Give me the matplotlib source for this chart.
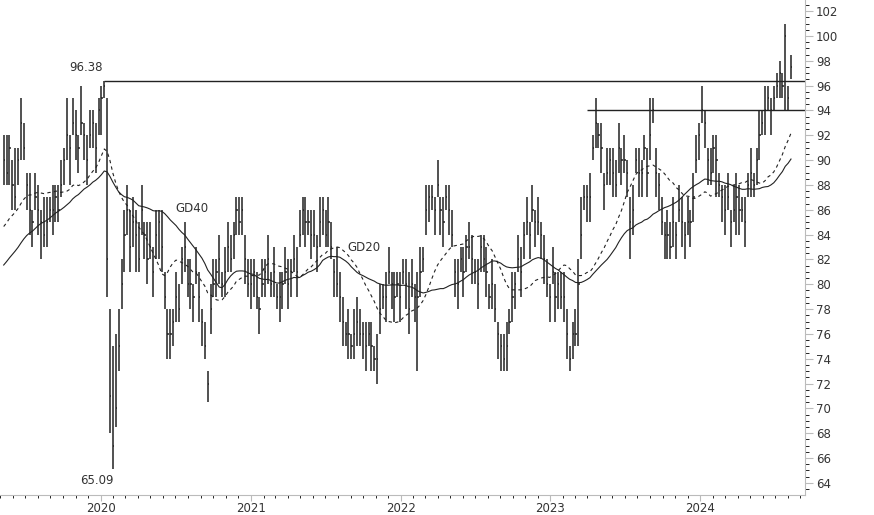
import numpy as np
import pandas as pd
import matplotlib
matplotlib.use("Agg")
import matplotlib.pyplot as plt
import matplotlib.dates as mdates
from matplotlib.ticker import MultipleLocator

# weekly closes
closes = [90,89,91,88,87,90,93,91,88,86,
          85,87,86,85,84,85,86,86,87,86,
          88,90,92,91,93,92,91,93,92,90,
          92,93,91,94,95,96,82,71,67,70,
          75,80,84,86,83,85,84,82,86,84,
          82,83,81,84,85,83,79,76,76,77,
          79,78,82,83,80,80,79,81,79,77,
          75,72,78,80,81,82,80,81,83,82,
          84,86,85,86,82,80,80,81,79,78,
          80,81,82,80,81,79,79,80,81,80,
          81,82,81,84,86,85,85,84,84,83,
          85,86,84,85,83,81,80,79,77,76,
          76,75,76,77,76,76,75,76,75,74,
          74,78,79,79,81,80,79,80,79,81,
          80,78,80,79,79,81,82,86,87,87,
          86,88,86,85,87,86,84,81,80,82,
          81,83,83,82,81,80,83,82,81,79,
          80,78,76,75,74,75,77,79,80,82,
          81,84,85,84,86,85,85,84,82,80,
          79,81,79,80,79,79,76,74,76,76,
          80,84,87,87,87,91,93,92,91,88,
          89,90,89,88,91,90,90,89,85,86,
          90,89,89,91,89,92,94,89,88,85,
          84,84,83,85,84,86,85,84,85,85,
          87,90,92,94,93,90,89,91,90,88,
          87,86,87,85,86,87,86,86,85,88,
          89,88,90,92,93,94,95,94,95,96,
          97,96,100,95,97.5]
# distance from close up to the weekly high
up = [2,3,1,2,4,1,2,2,1,3,
      1,2,2,1,3,2,1,2,1,2,
      2,1,3,1,2,2,1,3,1,2,
      2,1,2,1,1,0.38,13,7,8,6,
      3,2,2,2,3,2,2,3,2,1,
      3,2,2,2,1,3,2,2,2,1,
      2,2,1,2,2,2,1,2,2,1,
      2,1,2,2,1,2,1,2,2,2,
      1,1,2,1,2,2,2,1,2,1,
      2,1,2,1,2,1,2,1,2,2,
      1,2,2,2,1,2,1,2,2,1,
      2,1,2,2,2,1,3,2,2,1,
      2,1,2,2,2,1,2,1,2,1,
      2,2,1,2,2,1,2,1,2,1,
      2,3,2,1,2,2,1,2,1,1,
      1,2,1,2,1,2,2,1,2,1,
      2,1,2,2,1,2,1,2,2,1,
      2,2,1,1,2,2,1,2,1,2,
      2,1,2,1,2,1,2,1,2,2,
      1,2,2,1,2,2,2,1,1,2,
      2,3,1,1,2,1,2,1,2,1,
      2,1,2,2,2,1,2,1,2,2,
      1,2,1,1,2,3,1,2,1,2,
      1,2,2,2,1,2,2,1,2,1,
      2,2,1,2,1,1,2,1,2,1,
      1,2,2,1,2,2,2,1,2,1,
      2,1,1,2,1,2,1,1,1,1,
      1,1,1,1,1]
# distance from close down to the weekly low
dn = [2,1,3,2,1,2,3,1,2,2,
      2,1,2,3,1,2,1,2,2,1,
      1,2,2,3,1,2,2,1,2,2,
      1,2,2,2,3,1,3,3,1.91,1.5,
      2,2,3,2,2,2,3,1,2,2,
      2,1,2,2,3,2,1,2,2,2,
      2,1,2,2,1,2,2,1,2,2,
      1,1.5,2,1,2,2,1,2,2,1,
      2,2,1,2,2,1,2,2,1,2,
      1,2,2,1,2,1,2,2,1,2,
      2,1,2,1,2,2,1,2,1,2,
      2,2,1,2,1,2,1,2,2,1,
      2,1,2,2,1,2,2,1,2,1,
      2,2,1,2,1,2,2,1,2,1,
      2,2,1,2,6,2,1,2,2,1,
      2,1,2,2,1,2,1,2,2,1,
      2,2,1,2,1,2,2,1,2,1,
      2,1,2,2,1,2,1,2,2,1,
      2,2,1,2,1,2,1,2,2,1,
      2,1,2,2,1,2,2,1,2,1,
      5,2,1,2,2,1,2,1,2,2,
      1,2,2,1,2,2,1,2,3,2,
      1,2,2,1,2,2,1,2,2,1,
      2,2,1,2,2,1,2,2,1,2,
      2,1,2,1,2,2,1,2,3,1,
      2,2,1,2,1,3,2,1,2,1,
      2,1,2,2,1,2,1,2,1,1,
      2,1,6,1,1]
# closes before the visible window, used only to seed the averages
lead = [77,78,79,77,76,78,79,78,77,78,
        79,78,77,78,79,80,79,78,79,80,
        82,83,84,83,82,84,85,84,83,84,
        85,84,85,86,85,84,85,86,85,86]

start_date = "2019-05-10"
peak_idx, low_idx = 35, 38
peak_label, low_label = "96.38", "65.09"
res_lines = [96.38, 94.0]

n = len(closes)
dates = pd.date_range(start_date, periods=n, freq="W-FRI")
c = np.array(closes, float)
hi = c + np.array(up, float)
lo = c - np.array(dn, float)
allc = pd.Series(lead + closes)
gd20 = allc.rolling(20).mean().values[len(lead):]
gd40 = allc.rolling(40).mean().values[len(lead):]

fig = plt.figure(figsize=(8.74, 5.15), dpi=100)
ax = fig.add_axes([0, 0.039, 0.921, 0.961])
x = mdates.date2num(dates)
col = "#222222"
ax.vlines(x, lo, hi, color=col, lw=1.1)
ax.hlines(c, x, x + 3, color=col, lw=1.1)
ax.plot(x, gd20, color=col, lw=0.8, ls=(0, (3, 3)))
ax.plot(x, gd40, color=col, lw=0.8)

xmax = mdates.date2num(pd.Timestamp("2024-09-12"))
ax.hlines(res_lines[0], x[peak_idx], xmax, color=col, lw=1.0)
ax.hlines(res_lines[1], mdates.date2num(pd.Timestamp("2023-03-31")), xmax, color=col, lw=1.0)
ax.text(x[peak_idx] - 4, 96.9, peak_label, ha="right", va="bottom", fontsize=8.5, color="#333333")
ax.text(x[low_idx] + 3, 64.7, low_label, ha="right", va="top", fontsize=8.5, color="#333333")
ax.text(mdates.date2num(pd.Timestamp("2020-07-01")), 85.8, "GD40", fontsize=8.5, color="#333333")
ax.text(mdates.date2num(pd.Timestamp("2021-08-25")), 82.7, "GD20", fontsize=8.5, color="#333333")

ax.set_xlim(mdates.date2num(pd.Timestamp("2019-05-01")), xmax)
ax.set_ylim(63.03, 102.9)
ax.yaxis.tick_right()
ax.yaxis.set_major_locator(MultipleLocator(2))
ax.yaxis.set_minor_locator(MultipleLocator(0.5))
ax.xaxis.set_major_locator(mdates.YearLocator())
ax.xaxis.set_minor_locator(mdates.MonthLocator())
ax.xaxis.set_major_formatter(mdates.DateFormatter("%Y"))
ax.tick_params(axis="both", colors="#bbbbbb", labelcolor="#333333", labelsize=8.5)
ax.tick_params(axis="y", which="major", length=6, pad=2)
ax.tick_params(axis="y", which="minor", length=3)
ax.tick_params(axis="x", which="major", length=4, pad=1)
ax.tick_params(axis="x", which="minor", length=2)
for s in ["top", "left"]:
    ax.spines[s].set_visible(False)
for s in ["right", "bottom"]:
    ax.spines[s].set_color("#bbbbbb")

fig.savefig("out.png", dpi=100)
